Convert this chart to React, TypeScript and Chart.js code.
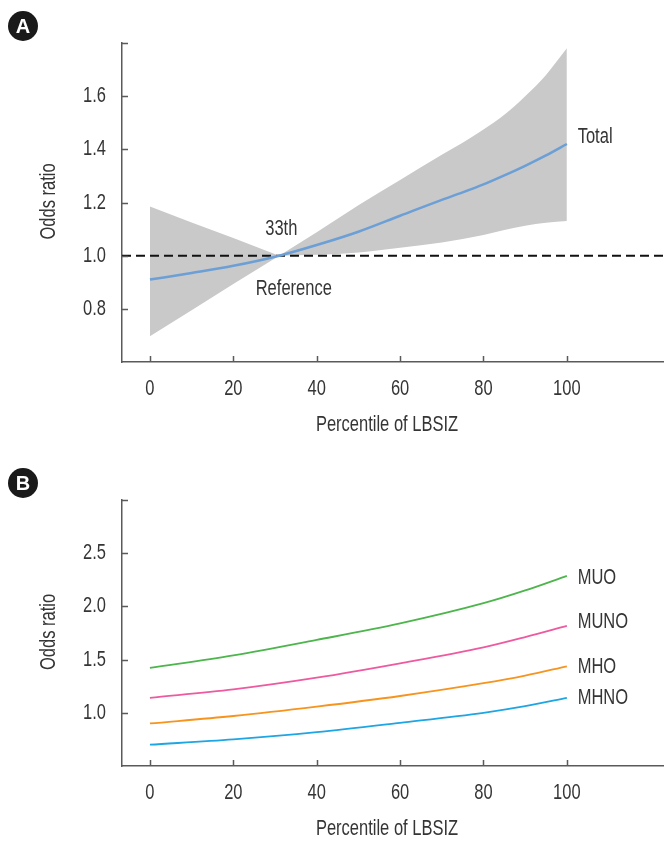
import React, { useEffect, useRef } from 'react';
import { Chart, registerables } from 'chart.js';
Chart.register(...registerables);

const FONT = "'Liberation Sans', Arial, sans-serif";
const FONT_SIZE = 22;
const SX = 0.75; // horizontal condensing of the text face
const TEXT = '#353535';
const AXIS = '#5a5a5a';
const BAND = '#c9c9c9';

// ---------- shared x axis ----------
const xRange = [-6.7, 123.3];
const xTicks = [0, 20, 40, 60, 80, 100];
const xLabels = ['0', '20', '40', '60', '80', '100'];
const xTitle = 'Percentile of LBSIZ';
const yTitle = 'Odds ratio';

// ---------- Panel A ----------
const xA = [0, 10, 20, 31, 40, 50, 60, 70, 75, 80, 85, 90, 95, 100];
const totalOR = [0.91, 0.935, 0.962, 1.0, 1.04, 1.09, 1.15, 1.21, 1.238, 1.268, 1.302, 1.338, 1.377, 1.42];
const upperCI = [1.185, 1.125, 1.066, 1.0, 1.088, 1.19, 1.285, 1.38, 1.425, 1.475, 1.53, 1.6, 1.68, 1.78];
const lowerCI = [0.697, 0.795, 0.893, 1.0, 1.003, 1.012, 1.03, 1.05, 1.063, 1.078, 1.097, 1.113, 1.124, 1.13];
const pinchIndex = 3; // the 33th-percentile reference point where the band closes
const refX = [-6.7, 123.3];
const refY = [1, 1];
const yRangeA = [0.6, 1.8];
const yTicksA = [0.8, 1.0, 1.2, 1.4, 1.6, 1.8];
const yLabelsA = ['0.8', '1.0', '1.2', '1.4', '1.6', ''];
const notesA = [
  { text: '33th', x: 31.5, y: 1.1, align: 'center' },
  { text: 'Reference', x: 34.5, y: 0.876, align: 'center' },
  { text: 'Total', x: 102.6, y: 1.446, align: 'left' },
];

// ---------- Panel B ----------
const xB = [0, 20, 40, 60, 80, 90, 100];
const muo = [1.422, 1.54, 1.685, 1.84, 2.03, 2.15, 2.287];
const muno = [1.141, 1.22, 1.33, 1.465, 1.615, 1.712, 1.818];
const mho = [0.9, 0.97, 1.058, 1.158, 1.278, 1.35, 1.437];
const mhno = [0.7, 0.75, 0.818, 0.906, 1.0, 1.062, 1.14];
const namesB = ['MUO', 'MUNO', 'MHO', 'MHNO'];
const colorsB = ['#4cb54c', '#ee5a9f', '#f7941d', '#1ea5e3'];
const labelYB = [2.268, 1.856, 1.434, 1.143];
const labelXB = 102.6;
const yRangeB = [0.5, 3.0];
const yTicksB = [1.0, 1.5, 2.0, 2.5, 3.0];
const yLabelsB = ['1.0', '1.5', '2.0', '2.5', ''];

function drawText(ctx: CanvasRenderingContext2D, text: string, x: number, y: number, align: CanvasTextAlign, rotate = false) {
  ctx.save();
  ctx.translate(x, y);
  if (rotate) ctx.rotate(-Math.PI / 2);
  ctx.scale(SX, 1);
  ctx.fillStyle = TEXT;
  ctx.font = `${FONT_SIZE}px ${FONT}`;
  ctx.textAlign = align;
  ctx.textBaseline = 'middle';
  ctx.fillText(text, 0, 0);
  ctx.restore();
}

const inwardTicks = {
  id: 'inwardTicks',
  afterDraw(chart: any) {
    const ctx = chart.ctx;
    const { left, bottom } = chart.chartArea;
    const xs = chart.scales.x;
    const ys = chart.scales.y;
    ctx.save();
    ctx.strokeStyle = AXIS;
    ctx.lineWidth = 1.5;
    ctx.beginPath();
    xs.ticks.forEach((t: any) => {
      const px = Math.round(xs.getPixelForValue(t.value)) + 0.5;
      ctx.moveTo(px, bottom);
      ctx.lineTo(px, bottom - 6);
    });
    ys.ticks.forEach((t: any) => {
      const py = Math.round(ys.getPixelForValue(t.value)) + 0.5;
      ctx.moveTo(left, py);
      ctx.lineTo(left + 6, py);
    });
    ctx.stroke();
    ctx.restore();
  },
};

const axisText = {
  id: 'axisText',
  afterDraw(chart: any, _args: any, opts: any) {
    const ctx = chart.ctx;
    const { left, top, bottom } = chart.chartArea;
    const xs = chart.scales.x;
    const ys = chart.scales.y;
    xs.ticks.forEach((t: any, i: number) => {
      drawText(ctx, opts.xLabels[i], xs.getPixelForValue(t.value), bottom + 27, 'center');
    });
    ys.ticks.forEach((t: any, i: number) => {
      const lab = opts.yLabels[i];
      if (lab) drawText(ctx, lab, left - 16, ys.getPixelForValue(t.value), 'right');
    });
    drawText(ctx, opts.xTitle, left + 265, bottom + 63, 'center');
    drawText(ctx, opts.yTitle, 49, (top + bottom) / 2 - 1, 'center', true);
    (opts.notes || []).forEach((it: any) => {
      drawText(ctx, it.text, xs.getPixelForValue(it.x), ys.getPixelForValue(it.y), it.align);
    });
  },
};

function makeScales(yRange: number[], yTicks: number[], xAxisH: number) {
  return {
    x: {
      type: 'linear',
      min: xRange[0],
      max: xRange[1],
      afterBuildTicks: (s: any) => {
        s.ticks = xTicks.map((v) => ({ value: v }));
      },
      afterFit: (s: any) => {
        s.height = xAxisH;
      },
      grid: { display: false, drawTicks: false },
      border: { display: true, color: AXIS, width: 1.5 },
      ticks: { display: false },
      title: { display: false },
    },
    y: {
      type: 'linear',
      min: yRange[0],
      max: yRange[1],
      afterBuildTicks: (s: any) => {
        s.ticks = yTicks.map((v) => ({ value: v }));
      },
      afterFit: (s: any) => {
        s.width = 122;
      },
      grid: { display: false, drawTicks: false },
      border: { display: true, color: AXIS, width: 1.5 },
      ticks: { display: false },
      title: { display: false },
    },
  };
}

function bandPart(values: number[], from: number, to: number) {
  const pts = [];
  for (let i = from; i <= to; i++) pts.push({ x: xA[i], y: values[i] });
  return pts;
}

function PanelA() {
  const ref = useRef<HTMLCanvasElement>(null);
  useEffect(() => {
    const last = xA.length - 1;
    const bandBase = {
      borderWidth: 0,
      pointRadius: 0,
      borderColor: 'rgba(0,0,0,0)',
      backgroundColor: BAND,
      order: 3,
    };
    const chart = new Chart(ref.current as HTMLCanvasElement, {
      type: 'line',
      data: {
        datasets: [
          { ...bandBase, data: bandPart(upperCI, 0, pinchIndex), fill: '+1', tension: 0 },
          { ...bandBase, data: bandPart(lowerCI, 0, pinchIndex), fill: false, tension: 0 },
          { ...bandBase, data: bandPart(upperCI, pinchIndex, last), fill: '+1', cubicInterpolationMode: 'monotone' },
          { ...bandBase, data: bandPart(lowerCI, pinchIndex, last), fill: false, cubicInterpolationMode: 'monotone' },
          {
            data: refX.map((x, i) => ({ x, y: refY[i] })),
            borderColor: '#111111',
            borderWidth: 2,
            borderDash: [9, 5],
            pointRadius: 0,
            fill: false,
            order: 2,
          },
          {
            data: xA.map((x, i) => ({ x, y: totalOR[i] })),
            borderColor: '#6b9fd6',
            borderWidth: 2.5,
            cubicInterpolationMode: 'monotone',
            pointRadius: 0,
            fill: false,
            order: 1,
          },
        ],
      },
      options: {
        animation: false,
        responsive: false,
        devicePixelRatio: 1,
        layout: { padding: { top: 43, left: 0, right: 0, bottom: 0 } },
        scales: makeScales(yRangeA, yTicksA, 88) as any,
        plugins: {
          legend: { display: false },
          tooltip: { enabled: false },
          axisText: { xLabels, yLabels: yLabelsA, xTitle, yTitle, notes: notesA },
        } as any,
      },
      plugins: [inwardTicks, axisText],
    } as any);
    return () => chart.destroy();
  }, []);
  return <canvas ref={ref} width={664} height={450} style={{ position: 'absolute', left: 0, top: 0, width: 664, height: 450 }} />;
}

function PanelB() {
  const ref = useRef<HTMLCanvasElement>(null);
  useEffect(() => {
    const series = [muo, muno, mho, mhno];
    const chart = new Chart(ref.current as HTMLCanvasElement, {
      type: 'line',
      data: {
        datasets: series.map((s, k) => ({
          label: namesB[k],
          data: xB.map((x, i) => ({ x, y: s[i] })),
          borderColor: colorsB[k],
          borderWidth: 1.8,
          cubicInterpolationMode: 'monotone',
          pointRadius: 0,
          fill: false,
        })),
      },
      options: {
        animation: false,
        responsive: false,
        devicePixelRatio: 1,
        layout: { padding: { top: 45, left: 0, right: 0, bottom: 0 } },
        scales: makeScales(yRangeB, yTicksB, 75) as any,
        plugins: {
          legend: { display: false },
          tooltip: { enabled: false },
          axisText: {
            xLabels,
            yLabels: yLabelsB,
            xTitle,
            yTitle,
            notes: namesB.map((n, k) => ({ text: n, x: labelXB, y: labelYB[k], align: 'left' })),
          },
        } as any,
      },
      plugins: [inwardTicks, axisText],
    } as any);
    return () => chart.destroy();
  }, []);
  return <canvas ref={ref} width={664} height={386} style={{ position: 'absolute', left: 0, top: 455, width: 664, height: 386 }} />;
}

function Badge({ letter, top }: { letter: string; top: number }) {
  return (
    <div
      style={{
        position: 'absolute',
        left: 8,
        top,
        width: 30,
        height: 30,
        borderRadius: '50%',
        background: '#1a1a1a',
        color: '#ffffff',
        fontFamily: "'Liberation Sans', Arial, sans-serif",
        fontWeight: 'bold',
        fontSize: 20,
        lineHeight: '30px',
        textAlign: 'center',
      }}
    >
      {letter}
    </div>
  );
}

export default function App() {
  return (
    <div style={{ position: 'absolute', left: 0, top: 0, width: 664, height: 841, background: '#ffffff', overflow: 'hidden' }}>
      <PanelA />
      <PanelB />
      <Badge letter="A" top={11} />
      <Badge letter="B" top={468} />
    </div>
  );
}
